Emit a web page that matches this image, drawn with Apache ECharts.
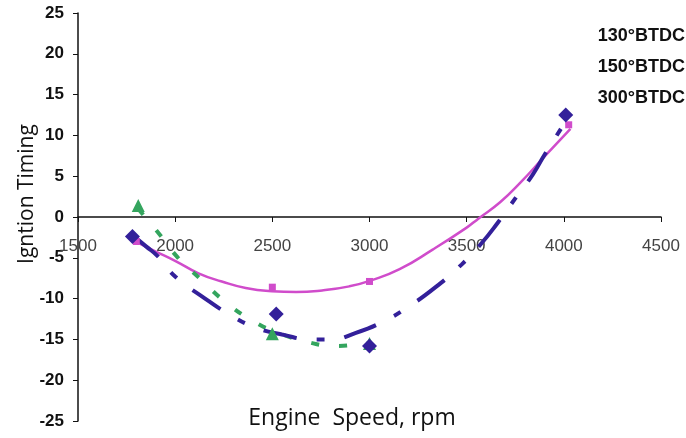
<!DOCTYPE html>
<html>
<head>
<meta charset="utf-8">
<script src="https://cdn.jsdelivr.net/npm/echarts@6/dist/echarts.min.js"></script>
<style>html,body{margin:0;padding:0;background:#fff}#c{width:686px;height:438px}</style>
</head>
<body>
<div id="c"></div>
<script>
// Series names
const seriesNames = ['130°BTDC', '150°BTDC', '300°BTDC'];
// Measured points
const rpmDiamond = [1780, 2520, 3000, 4010];
const valDiamond = [-2.4, -11.9, -15.8, 12.5];
const rpmSquare = [1800, 2500, 3000, 4025];
const valSquare = [-3.0, -8.6, -7.9, 11.3];
const rpmTriangle = [1810, 2500, 3000];
const valTriangle = [1.4, -14.3, -15.5];
// Trend curves
const trendDiamondRpm = [1780, 1850, 1910, 2000, 2130, 2290, 2420, 2550, 2700, 2800, 2930, 3080, 3200, 3340, 3475, 3570, 3660, 3760, 3840, 3900, 3990, 4010];
const trendDiamondVal = [-2.2, -3.6, -4.8, -7.3, -9.6, -12.1, -13.6, -14.4, -15.0, -15.0, -14.2, -12.7, -11.0, -8.6, -5.8, -3.4, -0.7, 2.6, 5.2, 7.6, 11.0, 11.8];
const trendSquareRpm = [1795, 1898, 2002, 2120, 2240, 2363, 2498, 2622, 2756, 2896, 3005, 3155, 3325, 3500, 3560, 3672, 3780, 3900, 4034];
const trendSquareVal = [-3.0, -4.2, -5.4, -6.9, -7.9, -8.7, -9.1, -9.2, -9.0, -8.5, -7.8, -6.4, -4.0, -1.3, -0.2, 1.8, 4.3, 7.4, 10.8];
const trendTriangleRpm = [1810, 1912, 2015, 2130, 2258, 2398, 2520, 2678, 2820, 2970, 3000];
const trendTriangleVal = [1.0, -1.9, -5.0, -7.6, -10.4, -12.7, -14.1, -15.3, -15.8, -15.5, -15.4];
// Axis ticks
const xMin = 1500, xMax = 4500, xStep = 500;
const yMin = -25, yMax = 25, yStep = 5;

const colBlue = '#33209a', colPink = '#d04ccb', colGreen = '#34a55e';
const zip = (a, b) => a.map((v, i) => [v, b[i]]);

const chart = echarts.init(document.getElementById('c'), null, {renderer: 'canvas'});
chart.setOption({
  animation: false,
  backgroundColor: '#fff',
  grid: {left: 78, right: 25, top: 13, bottom: 17, containLabel: false, outerBoundsMode: 'none'},
  legend: {
    data: seriesNames,
    orient: 'vertical', right: 1, top: 27, padding: 0, itemGap: 13,
    icon: 'none', itemWidth: 0, itemHeight: 0,
    textStyle: {fontFamily: 'Liberation Sans, Arial', fontSize: 18, fontWeight: 'bold', color: '#111'}
  },
  xAxis: {
    type: 'value', min: xMin, max: xMax, interval: xStep,
    position: 'bottom', offset: -204,
    axisLine: {onZero: false, lineStyle: {color: '#111', width: 1.5}},
    axisTick: {show: true, length: 5, lineStyle: {color: '#111'}},
    splitLine: {show: false},
    axisLabel: {color: '#444', fontFamily: 'Liberation Sans, Arial', fontSize: 17, margin: 21, formatter: v => String(v)},
    name: 'Engine  Speed, rpm', nameLocation: 'middle', nameGap: 190, nameMoveOverlap: false,
    nameTextStyle: {fontFamily: 'Open Sans', fontSize: 23, color: '#111', padding: [0, 35, 0, 0]}
  },
  yAxis: {
    type: 'value', min: yMin, max: yMax, interval: yStep,
    axisLine: {show: true, onZero: false, lineStyle: {color: '#111', width: 1.5}},
    axisTick: {show: true, length: 5, lineStyle: {color: '#111'}},
    splitLine: {show: false},
    axisLabel: {color: '#111', fontFamily: 'Liberation Sans, Arial', fontSize: 17, fontWeight: 'bold', margin: 14},
    name: 'Igntion Timing', nameLocation: 'middle', nameGap: 40, nameMoveOverlap: false,
    nameTextStyle: {fontFamily: 'Open Sans', fontSize: 21, color: '#111', padding: [0, 0, 0, 46]}
  },
  series: [
    {type: 'line', name: 't1', data: zip(trendSquareRpm, trendSquareVal), smooth: true, symbol: 'none',
     lineStyle: {color: colPink, width: 2.5}, z: 2},
    {type: 'line', name: 't2', data: zip(trendTriangleRpm, trendTriangleVal), smooth: true, symbol: 'none',
     lineStyle: {color: colGreen, width: 4, type: [8, 20]}, z: 2},
    {type: 'line', name: 't3', data: zip(trendDiamondRpm, trendDiamondVal), smooth: true, symbol: 'none',
     lineStyle: {color: colBlue, width: 4, type: [34, 20, 8, 20]}, z: 3},
    {type: 'scatter', name: seriesNames[2], data: zip(rpmTriangle, valTriangle), symbol: 'triangle', symbolSize: 13,
     itemStyle: {color: colGreen, opacity: 1}, z: 4},
    {type: 'scatter', name: seriesNames[1], data: zip(rpmSquare, valSquare), symbol: 'rect', symbolSize: 7,
     itemStyle: {color: colPink, opacity: 1}, z: 5},
    {type: 'scatter', name: seriesNames[0], data: zip(rpmDiamond, valDiamond), symbol: 'diamond', symbolSize: 15,
     itemStyle: {color: colBlue, opacity: 1}, z: 6}
  ]
});
</script>
</body>
</html>
